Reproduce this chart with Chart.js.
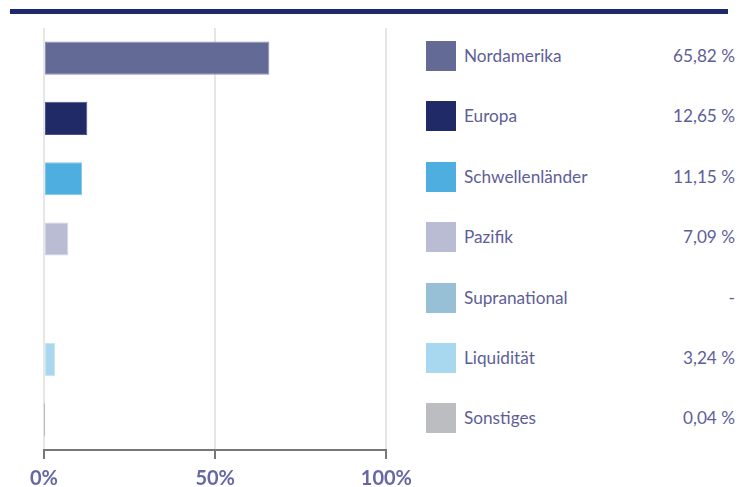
<!DOCTYPE html>
<html lang="de">
<head>
<meta charset="utf-8">
<title>Regionale Aufteilung</title>
<script src="https://cdn.jsdelivr.net/npm/chart.js@4/dist/chart.umd.min.js"></script>
<style>
  html, body {
    margin: 0;
    padding: 0;
    background: #ffffff;
  }
  body {
    width: 739px;
    height: 487px;
    position: relative;
    overflow: hidden;
    font-family: Lato, "Open Sans", sans-serif;
  }
  .top-rule {
    position: absolute;
    left: 10px;
    top: 9px;
    width: 718px;
    height: 5px;
    background: #1c2a6b;
  }
  .chart-box {
    position: absolute;
    left: 0;
    top: 0;
    width: 420px;
    height: 487px;
  }
  .legend {
    position: absolute;
    left: 426px;
    top: 41px;
    width: 309px;
    margin: 0;
    padding: 0;
    list-style: none;
  }
  .legend li {
    position: relative;
    height: 60.4px;
  }
  .legend .swatch {
    position: absolute;
    left: 0;
    top: 0;
    width: 30px;
    height: 30px;
  }
  .legend .name,
  .legend .value {
    position: absolute;
    top: 0;
    line-height: 30px;
    font-size: 17.2px;
    color: #5e5e97;
  }
  .legend .name {
    left: 38px;
  }
  .legend .value {
    right: 0;
  }
</style>
</head>
<body>
<div class="top-rule"></div>
<div class="chart-box"><canvas id="regionen-chart"></canvas></div>
<ul class="legend" id="regionen-legend"></ul>

<script>
"use strict";

const regions = ["Nordamerika", "Europa", "Schwellenländer", "Pazifik", "Supranational", "Liquidität", "Sonstiges"];
// Anteile in Prozent; null = keine Position
const shares = [65.82, 12.65, 11.15, 7.09, null, 3.24, 0.04];
const regionColors = ["#636a96", "#1f2a66", "#4eaee0", "#babcd3", "#97bfd6", "#a8d8ef", "#bbbdc1"];
const borderColors = ["#8b91bb", "#4a5490", "#7cc6ec", "#d2d3e4", "#b8d6e6", "#c6e6f5", "#a9abb0"];
const axisTicks = [0, 50, 100];

(() => {
  const formatter = new Intl.NumberFormat("de-DE", { minimumFractionDigits: 2, maximumFractionDigits: 2 });

  function renderLegend() {
    const list = document.getElementById("regionen-legend");
    regions.forEach((name, i) => {
      const li = document.createElement("li");
      const swatch = document.createElement("span");
      swatch.className = "swatch";
      swatch.style.background = regionColors[i];
      const label = document.createElement("span");
      label.className = "name";
      label.textContent = name;
      const value = document.createElement("span");
      value.className = "value";
      value.textContent = shares[i] === null ? "-" : `${formatter.format(shares[i])} %`;
      li.append(swatch, label, value);
      list.appendChild(li);
    });
  }

  function renderChart() {
    const ctx = document.getElementById("regionen-chart");
    new Chart(ctx, {
      type: "bar",
      data: {
        labels: regions,
        datasets: [
          {
            data: shares,
            backgroundColor: regionColors,
            borderColor: borderColors,
            borderWidth: 1,
            borderSkipped: false,
            barPercentage: 0.55,
            categoryPercentage: 1
          }
        ]
      },
      options: {
        indexAxis: "y",
        responsive: true,
        maintainAspectRatio: false,
        animation: false,
        layout: {
          padding: { left: 44, right: 31, top: 28, bottom: 0 }
        },
        plugins: {
          legend: { display: false },
          tooltip: { enabled: false }
        },
        scales: {
          x: {
            min: 0,
            max: 100,
            afterBuildTicks: (scale) => {
              scale.ticks = axisTicks.map((value) => ({ value }));
            },
            // feste Achsenhöhe, damit die Fläche bis y = 450 reicht
            afterFit: (scale) => {
              scale.height = 37;
            },
            ticks: {
              padding: 8,
              color: "#6767a6",
              font: { family: "Lato, sans-serif", size: 20, weight: "bold" },
              callback: (value) => `${value}%`
            },
            grid: {
              color: "#e6e6e6",
              lineWidth: 2,
              tickLength: 9,
              tickColor: "#777777",
              tickWidth: 2
            },
            border: {
              display: true,
              color: "#777777",
              width: 2
            }
          },
          y: {
            display: false
          }
        }
      }
    });
  }

  renderLegend();
  renderChart();
})();
</script>
</body>
</html>
